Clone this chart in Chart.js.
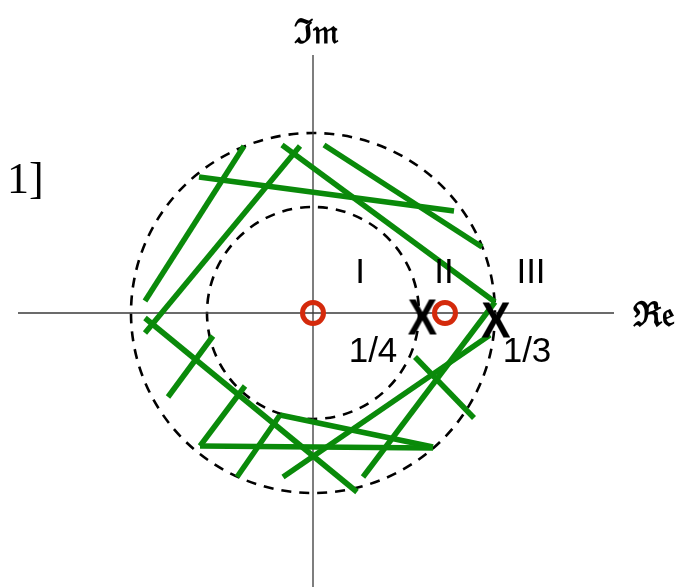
<!DOCTYPE html>
<html>
<head>
<meta charset="utf-8">
<script src="https://cdn.jsdelivr.net/npm/chart.js@4"></script>
<style>
  html, body { margin: 0; padding: 0; background: #fff; }
  canvas { display: block; }
</style>
</head>
<body>
<canvas id="zplane" width="696" height="587"></canvas>
<script>
// z-plane sketch: one unit = one layout pixel, origin at the axes crossing, y up.
const realAxis = [[-295, 0], [301, 0]];
const imagAxis = [[0, 258], [0, -274]];
// ROC boundaries |z| = 1/4 (inner) and |z| = 1/3 (outer), as [rx, ry]
const rocRadii = [[106, 106], [182, 180]];
const zeros = [[0, 0], [132, 0]];
const poles = [[109.5, -3.5], [183, -6.5]];
// hatching of the annulus, each entry [x0, y0, x1, y1]
const hatchSegments = [
  [-69, 167, -168, 12],
  [-13, 167, -168, -20],
  [-31, 168, 182, 11],
  [-114, 136, 141, 102],
  [11, 168, 169, 66],
  [-168, -5, 44, -179],
  [-100, -23, -145, -84],
  [-68, -73, -113, -133],
  [-113, -133, 120, -135],
  [-33, -102, -76, -164],
  [-33, -102, 120, -134],
  [-30, -164, 177, -22],
  [50, -164, 182, 11],
  [102, -44, 161, -105]
];
const regionNames = ['I', 'II', 'III'];
const poleLabels = ['1/4', '1/3'];
const axisTitles = ['\u211C\uD835\uDD22', '\u2111\uD835\uDD2A'];
const sideNote = '1]';

const GREEN = '#0a8a0a';
const RED = '#d42a0c';
const AXIS = '#3a3a3a';

// where the annotations sit, in plane units
const layout = {
  regions: [[47, 30], [131, 30], [218, 30]],
  poleText: [[60, -49], [214, -49]],
  reTitle: [320, -13],
  imTitle: [3, 270],
  note: [-306, 120]
};

const toPts = pairs => pairs.map(([x, y]) => ({ x, y }));

function poleGlyph() {
  const c = document.createElement('canvas');
  c.width = 40; c.height = 44;
  const g = c.getContext('2d');
  g.fillStyle = '#000';
  g.font = 'bold 50px "Liberation Sans", Arial, sans-serif';
  g.textAlign = 'center';
  g.textBaseline = 'alphabetic';
  g.translate(20, 22 + 18);
  g.scale(0.88, 1);
  g.fillText('X', 0, 0);
  return c;
}

const datasets = [];
[realAxis, imagAxis].forEach(axis => datasets.push({
  data: toPts(axis), showLine: true, borderColor: AXIS, borderWidth: 1.3,
  pointRadius: 0, order: 100
}));
hatchSegments.forEach(([x0, y0, x1, y1]) => datasets.push({
  data: [{ x: x0, y: y0 }, { x: x1, y: y1 }], showLine: true,
  borderColor: GREEN, borderWidth: 5.5, borderCapStyle: 'butt',
  pointRadius: 0, order: 50
}));
datasets.push({
  data: toPts(zeros), showLine: false, pointStyle: 'circle',
  pointRadius: 10.5, pointBorderWidth: 5, pointBorderColor: RED,
  pointBackgroundColor: 'rgba(0,0,0,0)', order: 10
});
datasets.push({
  data: toPts(poles), showLine: false, pointStyle: poleGlyph(),
  pointRadius: 1, order: 5
});

const rocCircles = {
  id: 'rocCircles',
  beforeDatasetsDraw(chart) {
    const { ctx, scales: { x, y } } = chart;
    const cx = x.getPixelForValue(0), cy = y.getPixelForValue(0);
    ctx.save();
    ctx.strokeStyle = '#000';
    ctx.lineWidth = 2.6;
    ctx.setLineDash([10, 8]);
    rocRadii.forEach(([rx, ry]) => {
      ctx.beginPath();
      ctx.ellipse(cx, cy, x.getPixelForValue(rx) - cx, cy - y.getPixelForValue(ry), 0, 0, Math.PI * 2);
      ctx.stroke();
    });
    ctx.restore();
  }
};

const annotations = {
  id: 'annotations',
  afterDatasetsDraw(chart) {
    const { ctx, scales: { x, y } } = chart;
    const put = (txt, [px, py], font, align) => {
      ctx.font = font;
      ctx.textAlign = align;
      ctx.textBaseline = 'alphabetic';
      ctx.fillText(txt, x.getPixelForValue(px), y.getPixelForValue(py));
    };
    ctx.save();
    ctx.fillStyle = '#000';
    const sans = '35px "Liberation Sans", Arial, sans-serif';
    regionNames.forEach((t, i) => put(t, layout.regions[i], sans, 'center'));
    poleLabels.forEach((t, i) => put(t, layout.poleText[i], sans, 'center'));
    put(axisTitles[0], layout.reTitle, 'bold 34px "DejaVu Serif", serif', 'left');
    put(axisTitles[1], layout.imTitle, 'bold 34px "DejaVu Serif", serif', 'center');
    put(sideNote, layout.note, '44px "Liberation Serif", "Times New Roman", serif', 'left');
    ctx.restore();
  }
};

new Chart(document.getElementById('zplane'), {
  type: 'scatter',
  data: { datasets },
  options: {
    responsive: false,
    animation: false,
    events: [],
    layout: { padding: 0, autoPadding: false },
    plugins: { legend: { display: false }, tooltip: { enabled: false } },
    scales: {
      x: { type: 'linear', min: -313, max: 383, display: false },
      y: { type: 'linear', min: -274, max: 313, display: false }
    }
  },
  plugins: [rocCircles, annotations]
});
</script>
</body>
</html>
